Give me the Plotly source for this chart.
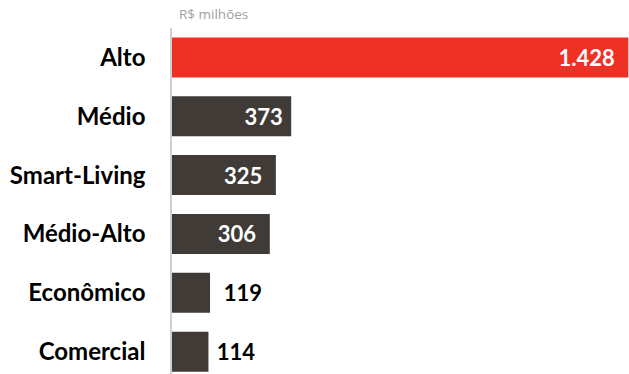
import plotly.graph_objects as go

categories = ["Alto", "Médio", "Smart-Living", "Médio-Alto", "Econômico", "Comercial"]
values = [1428, 373, 325, 306, 119, 114]
labels = ["1.428", "373", "325", "306", "119", "114"]
colors = ["#EE3124", "#403B37", "#403B37", "#403B37", "#403B37", "#403B37"]
positions = ["inside", "inside", "inside", "inside", "outside", "outside"]

NB = "\u00a0"
texts = [t + NB * 2 if p == "inside" else NB * 2 + t for t, p in zip(labels, positions)]
texts[1] = labels[1] + NB
texts[5] = NB + labels[5]

fig = go.Figure(go.Bar(
    x=values, y=categories, orientation="h",
    marker=dict(color=colors, line=dict(width=0)),
    text=texts, textposition=positions,
    insidetextanchor="end",
    textfont=dict(family="Lato", size=22, color=["white"] * 4 + ["black"] * 2),
    cliponaxis=False,
    width=0.68,
))

fig.update_layout(
    width=629, height=374,
    margin=dict(l=172, r=0, t=28, b=0),
    plot_bgcolor="white", paper_bgcolor="white",
    showlegend=False,
    xaxis=dict(range=[0, 1430], visible=False, fixedrange=True),
    yaxis=dict(range=[5.38, -0.5], showline=True, linecolor="#D0D0D0", linewidth=1.5,
               ticks="", showgrid=False, ticklabelstandoff=20,
               tickfont=dict(family="Lato", size=24, color="black", weight="bold")),
    annotations=[dict(text="R$ milhões", xref="paper", yref="paper", x=0, y=1,
                      xanchor="left", yanchor="bottom", xshift=5, yshift=3, showarrow=False,
                      font=dict(family="Open Sans", size=13.5, color="#A0A0A0"))],
    uniformtext=dict(minsize=8),
)
fig.update_traces(textfont_weight="bold")

fig.write_html("out.html")
